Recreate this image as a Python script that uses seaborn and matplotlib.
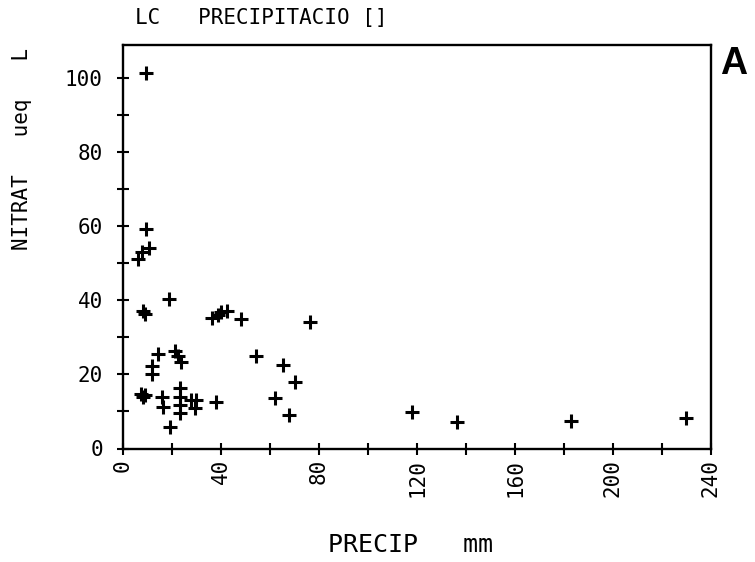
import matplotlib
matplotlib.use("Agg")
import matplotlib.pyplot as plt
from matplotlib.ticker import MultipleLocator, FixedLocator
import seaborn as sns
import pandas as pd

# Precipitation (mm) and nitrate (ueq/L) per event
precip = [9.4, 9.4, 10.8, 7.6, 6.0, 18.6, 8.0, 8.8,
          36.4, 38.9, 40.0, 42.3, 48.0, 76.3,
          14.3, 21.2, 22.6, 23.5, 11.8, 11.8,
          54.3, 65.4, 70.2,
          7.2, 8.2, 9.0, 15.8, 16.3,
          23.3, 23.3, 23.3, 23.3,
          27.8, 29.6, 29.2, 38.1, 19.1, 62.0, 67.9,
          118.1, 136.5, 182.7, 229.8]
nitrate = [101.3, 59.1, 54.1, 53.0, 51.0, 40.3, 37.0, 36.2,
           35.1, 36.0, 36.7, 37.0, 35.0, 34.2,
           25.6, 26.3, 24.9, 23.2, 22.3, 20.2,
           25.0, 22.5, 17.9,
           14.6, 13.8, 14.3, 13.8, 11.2,
           16.2, 14.0, 11.8, 9.6,
           13.2, 13.0, 11.0, 12.6, 5.8, 13.6, 8.9,
           9.8, 7.2, 7.5, 8.1]

x_major = [0, 40, 80, 120, 160, 200, 240]
y_major = [0, 20, 40, 60, 80, 100]

df = pd.DataFrame({"PRECIP": precip, "NITRAT": nitrate})

sns.set_style("ticks")
plt.rcParams["font.family"] = ["DejaVu Sans Mono", "DejaVu Sans"]

fig = plt.figure(figsize=(7.55, 5.62), dpi=100)
ax = fig.add_axes([123 / 755, 1 - 448.5 / 562, 588 / 755, 403.5 / 562])

sns.scatterplot(data=df, x="PRECIP", y="NITRAT", marker="+", s=110,
                color="black", linewidth=2.2, ax=ax, legend=False)

ax.set_xlim(0, 240)
ax.set_ylim(0, 108.8)

ax.xaxis.set_major_locator(FixedLocator(x_major))
ax.xaxis.set_minor_locator(MultipleLocator(20))
ax.yaxis.set_major_locator(FixedLocator(y_major))
ax.yaxis.set_minor_locator(MultipleLocator(10))
ax.set_xticklabels([str(v) for v in x_major], rotation=90, fontsize=15)
ax.set_yticklabels([str(v) for v in y_major], fontsize=15)

ax.tick_params(axis="both", which="both", direction="inout", length=9,
               width=1.5, color="black", labelcolor="black",
               bottom=True, left=True, top=False, right=False)
ax.tick_params(axis="x", which="major", pad=3)
ax.tick_params(axis="y", which="major", pad=10)

for side in ["left", "bottom", "top", "right"]:
    ax.spines[side].set_visible(True)
    ax.spines[side].set_color("black")
    ax.spines[side].set_linewidth(1.7)

ax.set_xlabel("")
ax.set_ylabel("")

fig.text(135 / 755, 1 - 18 / 562, "LC   PRECIPITACIO []", fontsize=15,
         ha="left", va="center", color="black")
fig.text(22 / 755, 1 - 250 / 562, "NITRAT   ueq   L", fontsize=15,
         rotation=90, ha="center", va="bottom", color="black")
fig.text(410 / 755, 1 - 545 / 562, "PRECIP   mm", fontsize=18,
         ha="center", va="center", color="black")
fig.text(720 / 755, 1 - 64 / 562, "A", fontsize=27, fontweight="bold",
         family=["Liberation Sans", "DejaVu Sans"],
         ha="left", va="center", color="black")

fig.savefig("out.png", dpi=100, facecolor="white")
